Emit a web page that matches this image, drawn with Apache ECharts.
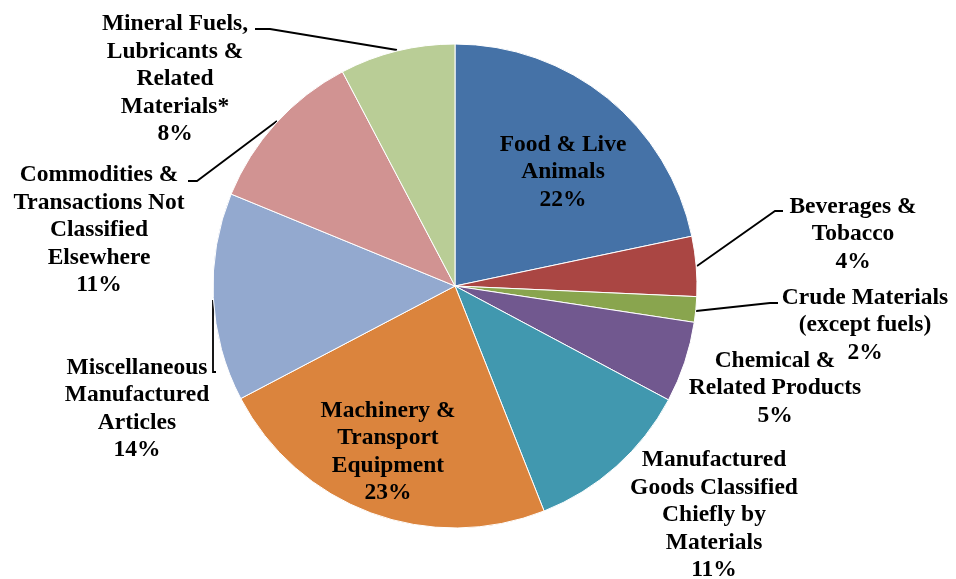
<!DOCTYPE html>
<html>
<head>
<meta charset="utf-8">
<script src="https://cdn.jsdelivr.net/npm/echarts@6/dist/echarts.min.js"></script>
<style>
  html, body { margin: 0; padding: 0; background: #fff; }
  #main { width: 956px; height: 579px; }
</style>
</head>
<body>
<div id="main"></div>
<script>
// categories clockwise from 12 o'clock
var names = [
  'Food & Live\nAnimals',
  'Beverages &\nTobacco',
  'Crude Materials\n(except fuels)',
  'Chemical &\nRelated Products',
  'Manufactured\nGoods Classified\nChiefly by\nMaterials',
  'Machinery &\nTransport\nEquipment',
  'Miscellaneous\nManufactured\nArticles',
  'Commodities &\nTransactions Not\nClassified\nElsewhere',
  'Mineral Fuels,\nLubricants &\nRelated\nMaterials*'
];
// shares (labels show rounded %)
var shares = [21.7, 4.0, 1.7, 5.4, 11.2, 23.3, 13.9, 11.1, 7.7];
var colors = ['#4572A7', '#AA4643', '#89A54E', '#71588F', '#4198AF',
              '#DB843D', '#93A9CF', '#D19392', '#B9CD96'];

// label centres and leader lines
var labelPos = [
  [563, 172], [853, 234], [865, 325], [775, 388], [714, 515],
  [388, 452], [137, 409], [99, 230], [175, 79]
];
var leaders = {
  1: [[697, 266], [775, 211], [783, 211]],
  2: [[696, 311], [770, 303], [778, 303]],
  6: [[213, 300], [213, 372], [216, 372]],
  7: [[277, 121], [197, 181], [188, 181]],
  8: [[397, 50], [270, 29], [255, 29]]
};

var chart = echarts.init(document.getElementById('main'));

var data = names.map(function (n, i) {
  return {
    name: n,
    value: shares[i],
    itemStyle: { color: colors[i] },
    labelLine: { show: !!leaders[i] }
  };
});

chart.setOption({
  animation: false,
  series: [{
    type: 'pie',
    center: [455, 286],
    radius: 242,
    startAngle: 90,
    clockwise: true,
    percentPrecision: 0,
    data: data,
    itemStyle: { borderColor: '#fff', borderWidth: 1 },
    label: {
      show: true,
      position: 'outside',
      formatter: '{b}\n{d}%',
      fontFamily: 'Liberation Serif',
      fontWeight: 'bold',
      fontSize: 23.5,
      lineHeight: 27.5,
      color: '#000'
    },
    labelLine: {
      show: true,
      lineStyle: { color: '#000', width: 1.8 }
    },
    labelLayout: function (p) {
      var pos = labelPos[p.dataIndex];
      var res = { x: pos[0], y: pos[1], align: 'center', verticalAlign: 'middle' };
      if (leaders[p.dataIndex]) res.labelLinePoints = leaders[p.dataIndex];
      return res;
    }
  }]
});
</script>
</body>
</html>
